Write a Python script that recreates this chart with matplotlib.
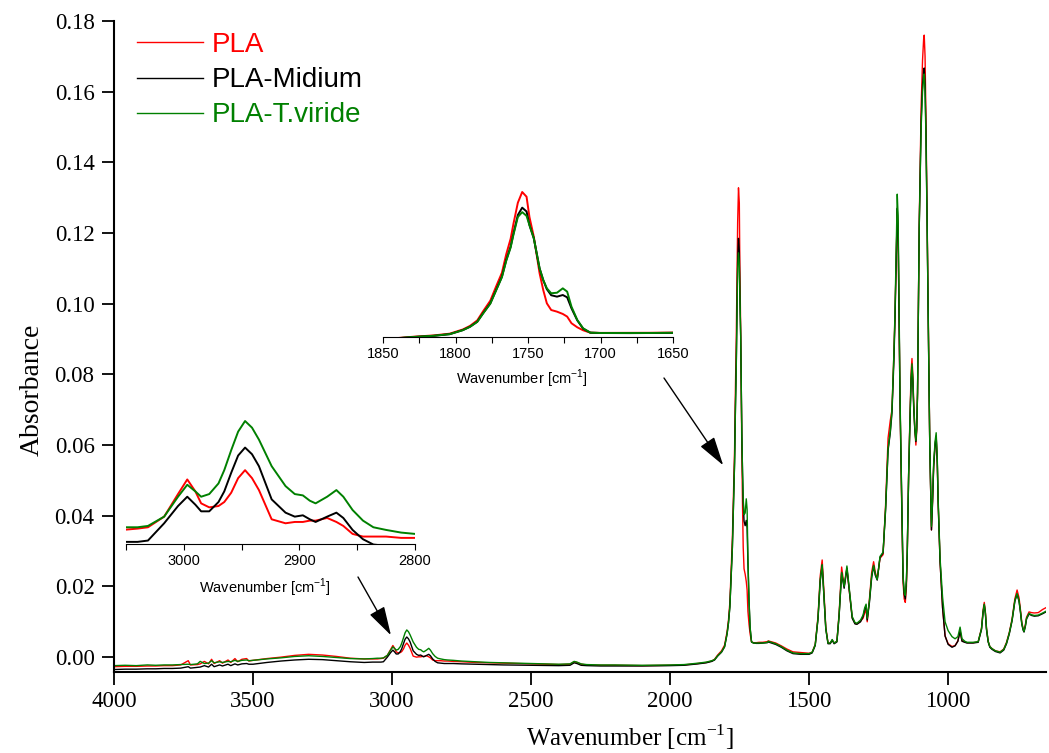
import numpy as np
import matplotlib
matplotlib.use("Agg")
import matplotlib.pyplot as plt

plt.rcParams["mathtext.fontset"] = "custom"
plt.rcParams["mathtext.rm"] = "Liberation Serif"
plt.rcParams["mathtext.sf"] = "Liberation Sans"

SERIF = "Liberation Serif"
SANS = "Liberation Sans"

# ---------------------------------------------------------------- data
series_names = ["PLA", "PLA-Midium", "PLA-T.viride"]
series_colors = ["#ff0000", "#000000", "#008000"]

# wavenumber grid [cm-1]
wavenumber = [
    # 4000 - 3070 : O-H region and noisy baseline
    4000, 3960, 3920, 3880, 3850, 3820, 3790, 3760, 3733, 3725, 3700, 3690,
    3675, 3660, 3649, 3640, 3620, 3610, 3590, 3580, 3565, 3555, 3540, 3523,
    3515, 3500, 3450, 3400, 3350, 3300, 3250, 3200, 3150, 3100, 3070,
    # 3053 - 2800 : C-H stretching
    3053, 3040, 3031, 3017, 3005, 2997, 2990, 2985, 2978, 2970, 2965, 2959,
    2953, 2947, 2941, 2935, 2924, 2912, 2904, 2897, 2891, 2886, 2876, 2868,
    2862, 2854, 2845, 2836, 2825, 2812, 2800,
    # 2780 - 1850 : flat region
    2780, 2750, 2700, 2650, 2600, 2500, 2400, 2360, 2345, 2335, 2320, 2300,
    2250, 2200, 2100, 2000, 1950, 1900, 1870, 1850,
    # 1840 - 1650 : carbonyl band
    1840, 1829, 1815, 1804, 1795, 1790, 1785, 1781, 1776, 1772, 1768, 1765,
    1762, 1760, 1757, 1754, 1751, 1749, 1746, 1744, 1742, 1739.5, 1737, 1734,
    1730, 1726, 1723, 1720, 1716, 1712, 1707, 1700, 1690, 1680, 1667, 1650,
    # 1647 - 648 : fingerprint region
    1647, 1620, 1600, 1580, 1558, 1530, 1500, 1489, 1478, 1468, 1460, 1453,
    1447, 1440, 1432, 1424, 1417, 1410, 1400, 1392, 1383, 1374, 1364, 1355,
    1345, 1335, 1328, 1315, 1306, 1300, 1295, 1291, 1283, 1275, 1268, 1262,
    1255, 1245, 1234, 1225, 1216, 1208, 1202, 1195, 1191, 1186, 1183, 1180,
    1176, 1173, 1167, 1162, 1158, 1154, 1150, 1147, 1142, 1137, 1133, 1130,
    1127, 1124, 1120, 1116, 1113, 1110, 1104, 1097, 1092, 1088, 1086, 1083,
    1080, 1076, 1072, 1066, 1060, 1056, 1052, 1047, 1043, 1039, 1036, 1029,
    1020, 1011, 1000, 986, 975, 965, 957, 950, 940, 932, 910, 892,
    880, 874, 870, 866, 862, 856, 850, 842, 830, 813, 800, 790,
    780, 770, 760, 752, 745, 740, 735, 730, 727, 722, 718, 709,
    700, 690, 676, 660, 648,
]

absorbance_pla = [
    -0.0027, -0.0026, -0.0026, -0.0025, -0.0025, -0.0024, -0.0024, -0.0022, -0.0010, -0.0022, -0.0021, -0.0019,
    -0.0012, -0.0019, -0.0006, -0.0018, -0.0010, -0.0017, -0.0008, -0.0015, -0.0004, -0.0013, -0.0006, -0.0004,
    -0.0011, -0.0009, -0.0004, 0.0000, 0.0005, 0.0008, 0.0006, 0.0002, -0.0003, -0.0005, -0.0005,
    -0.0005, -0.0004, -0.0003, 0.0005, 0.0022, 0.0033, 0.0024, 0.0015, 0.0012, 0.0013, 0.0016, 0.0023,
    0.0034, 0.0040, 0.0034, 0.0025, 0.0003, 0.0000, 0.0001, 0.0001, 0.0002, 0.0002, 0.0004, 0.0001,
    -0.0002, -0.0008, -0.0010, -0.0010, -0.0010, -0.0011, -0.0011,
    -0.0012, -0.0013, -0.0015, -0.0016, -0.0017, -0.0019, -0.0021, -0.0020, -0.0013, -0.0015, -0.0020, -0.0022,
    -0.0023, -0.0023, -0.0024, -0.0023, -0.0022, -0.0018, -0.0015, -0.0011,
    -0.0006, 0.0006, 0.0018, 0.0034, 0.0072, 0.0105, 0.0155, 0.0238, 0.0335, 0.0465, 0.0590, 0.0760,
    0.0900, 0.1040, 0.1230, 0.1328, 0.1285, 0.1100, 0.0920, 0.0750, 0.0585, 0.0433, 0.0311, 0.0250,
    0.0235, 0.0214, 0.0190, 0.0129, 0.0092, 0.0065, 0.0043, 0.0041, 0.0041, 0.0042, 0.0042, 0.0044,
    0.0046, 0.0040, 0.0032, 0.0023, 0.0015, 0.0013, 0.0011, 0.0014, 0.0036, 0.0115, 0.0230, 0.0275,
    0.0190, 0.0085, 0.0040, 0.0040, 0.0048, 0.0040, 0.0045, 0.0125, 0.0255, 0.0200, 0.0250, 0.0185,
    0.0112, 0.0096, 0.0094, 0.0102, 0.0110, 0.0125, 0.0135, 0.0100, 0.0165, 0.0240, 0.0270, 0.0240,
    0.0222, 0.0280, 0.0290, 0.0430, 0.0620, 0.0670, 0.0700, 0.0860, 0.0970, 0.1150, 0.1260, 0.1200,
    0.0920, 0.0720, 0.0430, 0.0210, 0.0165, 0.0155, 0.0200, 0.0290, 0.0520, 0.0690, 0.0810, 0.0845,
    0.0800, 0.0725, 0.0650, 0.0600, 0.0640, 0.0750, 0.1225, 0.1560, 0.1690, 0.1750, 0.1760, 0.1700,
    0.1540, 0.1270, 0.0980, 0.0600, 0.0360, 0.0440, 0.0540, 0.0600, 0.0625, 0.0550, 0.0440, 0.0270,
    0.0140, 0.0060, 0.0038, 0.0030, 0.0033, 0.0046, 0.0075, 0.0046, 0.0043, 0.0041, 0.0041, 0.0043,
    0.0082, 0.0135, 0.0155, 0.0128, 0.0082, 0.0045, 0.0030, 0.0024, 0.0018, 0.0015, 0.0023, 0.0042,
    0.0070, 0.0108, 0.0165, 0.0190, 0.0168, 0.0135, 0.0098, 0.0080, 0.0075, 0.0093, 0.0113, 0.0128,
    0.0126, 0.0125, 0.0126, 0.0135, 0.0140,
]

absorbance_midium = [
    -0.0035, -0.0034, -0.0034, -0.0033, -0.0033, -0.0032, -0.0032, -0.0031, -0.0027, -0.0031, -0.0029, -0.0028,
    -0.0024, -0.0028, -0.0020, -0.0027, -0.0022, -0.0025, -0.0020, -0.0024, -0.0019, -0.0022, -0.0019, -0.0018,
    -0.0020, -0.0020, -0.0015, -0.0011, -0.0008, -0.0006, -0.0007, -0.0010, -0.0013, -0.0015, -0.0014,
    -0.0014, -0.0014, -0.0013, 0.0000, 0.0013, 0.0020, 0.0014, 0.0009, 0.0009, 0.0016, 0.0024, 0.0038,
    0.0051, 0.0057, 0.0052, 0.0043, 0.0018, 0.0008, 0.0005, 0.0006, 0.0003, 0.0001, 0.0005, 0.0008,
    0.0004, -0.0005, -0.0012, -0.0016, -0.0017, -0.0018, -0.0018,
    -0.0018, -0.0019, -0.0020, -0.0021, -0.0022, -0.0023, -0.0024, -0.0023, -0.0016, -0.0018, -0.0023, -0.0024,
    -0.0025, -0.0025, -0.0025, -0.0024, -0.0023, -0.0019, -0.0016, -0.0012,
    -0.0008, 0.0003, 0.0014, 0.0029, 0.0066, 0.0097, 0.0143, 0.0220, 0.0311, 0.0433, 0.0554, 0.0707,
    0.0828, 0.0950, 0.1118, 0.1185, 0.1150, 0.1026, 0.0905, 0.0768, 0.0630, 0.0524, 0.0440, 0.0385,
    0.0372, 0.0387, 0.0366, 0.0265, 0.0155, 0.0080, 0.0043, 0.0040, 0.0039, 0.0039, 0.0040, 0.0041,
    0.0043, 0.0036, 0.0028, 0.0018, 0.0010, 0.0008, 0.0008, 0.0012, 0.0033, 0.0108, 0.0215, 0.0260,
    0.0178, 0.0080, 0.0038, 0.0038, 0.0048, 0.0038, 0.0043, 0.0118, 0.0238, 0.0195, 0.0252, 0.0185,
    0.0110, 0.0094, 0.0093, 0.0100, 0.0115, 0.0135, 0.0145, 0.0105, 0.0155, 0.0225, 0.0258, 0.0232,
    0.0218, 0.0282, 0.0295, 0.0415, 0.0585, 0.0635, 0.0690, 0.0840, 0.0960, 0.1150, 0.1270, 0.1220,
    0.0930, 0.0720, 0.0440, 0.0225, 0.0178, 0.0165, 0.0215, 0.0295, 0.0515, 0.0675, 0.0785, 0.0820,
    0.0780, 0.0710, 0.0645, 0.0610, 0.0645, 0.0745, 0.1215, 0.1520, 0.1620, 0.1660, 0.1667, 0.1620,
    0.1500, 0.1260, 0.0980, 0.0600, 0.0360, 0.0440, 0.0540, 0.0600, 0.0625, 0.0550, 0.0440, 0.0270,
    0.0140, 0.0060, 0.0036, 0.0028, 0.0032, 0.0045, 0.0073, 0.0045, 0.0042, 0.0040, 0.0040, 0.0042,
    0.0078, 0.0128, 0.0148, 0.0123, 0.0078, 0.0043, 0.0028, 0.0022, 0.0016, 0.0012, 0.0020, 0.0038,
    0.0066, 0.0103, 0.0158, 0.0178, 0.0158, 0.0128, 0.0093, 0.0076, 0.0071, 0.0088, 0.0108, 0.0122,
    0.0118, 0.0116, 0.0117, 0.0123, 0.0128,
]

absorbance_tviride = [
    -0.0024, -0.0023, -0.0024, -0.0022, -0.0023, -0.0022, -0.0022, -0.0021, -0.0020, -0.0021, -0.0019, -0.0012,
    -0.0018, -0.0017, -0.0010, -0.0016, -0.0013, -0.0015, -0.0012, -0.0013, -0.0009, -0.0012, -0.0009, -0.0008,
    -0.0010, -0.0009, -0.0005, -0.0002, 0.0002, 0.0004, 0.0002, -0.0001, -0.0004, -0.0005, -0.0004,
    -0.0003, -0.0003, -0.0002, 0.0005, 0.0020, 0.0029, 0.0024, 0.0020, 0.0022, 0.0030, 0.0040, 0.0055,
    0.0069, 0.0077, 0.0072, 0.0063, 0.0043, 0.0028, 0.0022, 0.0021, 0.0017, 0.0015, 0.0020, 0.0025,
    0.0020, 0.0010, 0.0002, -0.0003, -0.0005, -0.0007, -0.0008,
    -0.0009, -0.0011, -0.0013, -0.0015, -0.0016, -0.0018, -0.0020, -0.0019, -0.0012, -0.0014, -0.0019, -0.0021,
    -0.0022, -0.0022, -0.0023, -0.0022, -0.0021, -0.0017, -0.0014, -0.0010,
    -0.0007, 0.0004, 0.0015, 0.0030, 0.0066, 0.0097, 0.0142, 0.0218, 0.0308, 0.0430, 0.0550, 0.0700,
    0.0820, 0.0940, 0.1100, 0.1144, 0.1110, 0.1026, 0.0905, 0.0768, 0.0630, 0.0524, 0.0448, 0.0403,
    0.0408, 0.0448, 0.0418, 0.0280, 0.0159, 0.0083, 0.0043, 0.0040, 0.0040, 0.0040, 0.0040, 0.0042,
    0.0045, 0.0038, 0.0030, 0.0020, 0.0012, 0.0010, 0.0010, 0.0014, 0.0035, 0.0110, 0.0220, 0.0262,
    0.0180, 0.0080, 0.0040, 0.0040, 0.0050, 0.0040, 0.0045, 0.0120, 0.0240, 0.0200, 0.0258, 0.0190,
    0.0115, 0.0098, 0.0096, 0.0105, 0.0119, 0.0140, 0.0150, 0.0110, 0.0160, 0.0230, 0.0260, 0.0235,
    0.0220, 0.0285, 0.0297, 0.0420, 0.0590, 0.0640, 0.0700, 0.0860, 0.0980, 0.1180, 0.1310, 0.1250,
    0.0950, 0.0740, 0.0450, 0.0230, 0.0185, 0.0175, 0.0220, 0.0300, 0.0520, 0.0680, 0.0790, 0.0830,
    0.0790, 0.0720, 0.0650, 0.0613, 0.0650, 0.0750, 0.1215, 0.1500, 0.1600, 0.1640, 0.1650, 0.1600,
    0.1480, 0.1250, 0.0980, 0.0600, 0.0370, 0.0450, 0.0550, 0.0610, 0.0635, 0.0560, 0.0450, 0.0280,
    0.0170, 0.0100, 0.0075, 0.0058, 0.0052, 0.0058, 0.0085, 0.0052, 0.0045, 0.0042, 0.0042, 0.0044,
    0.0080, 0.0130, 0.0150, 0.0125, 0.0080, 0.0045, 0.0030, 0.0024, 0.0018, 0.0014, 0.0022, 0.0040,
    0.0068, 0.0105, 0.0160, 0.0180, 0.0160, 0.0130, 0.0095, 0.0078, 0.0073, 0.0090, 0.0110, 0.0124,
    0.0120, 0.0118, 0.0119, 0.0125, 0.0130,
]

series_values = [absorbance_pla, absorbance_midium, absorbance_tviride]

x_ticks_main = [4000, 3500, 3000, 2500, 2000, 1500, 1000]
y_ticks_main = [0.00, 0.02, 0.04, 0.06, 0.08, 0.10, 0.12, 0.14, 0.16, 0.18]

# ---------------------------------------------------------------- figure
W, H = 1049, 753
fig = plt.figure(figsize=(W / 100, H / 100), dpi=100)


def px_box(left, top, right, bottom):
    """Axes rectangle from pixel edges measured from the top-left corner."""
    return [left / W, 1 - bottom / H, (right - left) / W, (bottom - top) / H]


ax = fig.add_axes(px_box(114, 21, 1046, 672))
for name, color, vals in zip(series_names, series_colors, series_values):
    ax.plot(wavenumber, vals, color=color, lw=1.0, label=name)

ax.set_xlim(4000, 648)
ax.set_ylim(-0.0042, 0.18)
ax.set_xticks(x_ticks_main)
ax.set_yticks(y_ticks_main)
ax.set_yticklabels([f"{v:.2f}" for v in y_ticks_main])
for s in ("top", "right"):
    ax.spines[s].set_visible(False)
for s in ("left", "bottom"):
    ax.spines[s].set_linewidth(1.5)
ax.tick_params(direction="out", length=9, width=1.3, pad=5,
               labelsize=16.5)
for lab in ax.get_xticklabels() + ax.get_yticklabels():
    lab.set_fontfamily(SERIF)

ax.set_xlabel(r"Wavenumber [cm$^{\mathrm{-1}}$]", fontsize=18, fontfamily=SERIF)
ax.set_ylabel("Absorbance", fontsize=20, fontfamily=SERIF)
ax.xaxis.set_label_coords(0.554, -0.1)
ax.xaxis.label.set_va("center")
ax.yaxis.set_label_coords(-0.088, 0.433)
ax.yaxis.label.set_va("center")

leg = ax.legend(loc="upper left", bbox_to_anchor=(0.0247, 0.983), frameon=False,
                prop={"family": SANS, "size": 20}, handlelength=2.37,
                handletextpad=0.32, labelspacing=0.33, borderpad=0,
                borderaxespad=0)
for txt, color in zip(leg.get_texts(), series_colors):
    txt.set_color(color)


def style_inset(axi, xlim, ylim, major, minor):
    axi.patch.set_alpha(0)
    for name, color, vals in zip(series_names, series_colors, series_values):
        axi.plot(wavenumber, vals, color=color, lw=1.4)
    axi.set_xlim(*xlim)
    axi.set_ylim(*ylim)
    for s in ("top", "right", "left"):
        axi.spines[s].set_visible(False)
    axi.spines["bottom"].set_linewidth(0.8)
    axi.set_yticks([])
    axi.set_xticks(major)
    axi.set_xticks(minor, minor=True)
    axi.tick_params(axis="x", which="both", direction="out", length=4,
                    width=0.8, pad=3.5, labelsize=10.5)
    for lab in axi.get_xticklabels():
        lab.set_fontfamily(SANS)
    axi.set_xlabel(r"Wavenumber [cm$^{\mathsf{-1}}$]", fontsize=10.5,
                   fontfamily=SANS)
    axi.xaxis.label.set_va("center")


# C-H stretching inset
ax_ch = fig.add_axes(px_box(126, 410, 415, 544))
style_inset(ax_ch, (3050, 2800), (-0.00156, 0.00853),
            [3000, 2900, 2800], [3050, 2950, 2850])
ax_ch.xaxis.set_label_coords(0.48, -0.328)

# carbonyl inset
ax_co = fig.add_axes(px_box(383, 170, 673, 337))
style_inset(ax_co, (1850, 1650), (0.00035, 0.1529),
            [1850, 1800, 1750, 1700, 1650], [1825, 1775, 1725, 1675])
ax_co.xaxis.set_label_coords(0.48, -0.251)

# arrows from the insets to the bands they magnify
arrow_kw = dict(arrowstyle="-|>,head_length=0.9,head_width=0.26",
                mutation_scale=20, lw=1.0, color="black",
                shrinkA=0, shrinkB=0)
ax.annotate("", xy=(3004, 0.0062), xycoords="data",
            xytext=(358 / W, 1 - 577 / H), textcoords="figure fraction",
            arrowprops=arrow_kw)
ax.annotate("", xy=(1809, 0.0543), xycoords="data",
            xytext=(664 / W, 1 - 378 / H), textcoords="figure fraction",
            arrowprops=arrow_kw)

fig.savefig("out.png", dpi=100)
